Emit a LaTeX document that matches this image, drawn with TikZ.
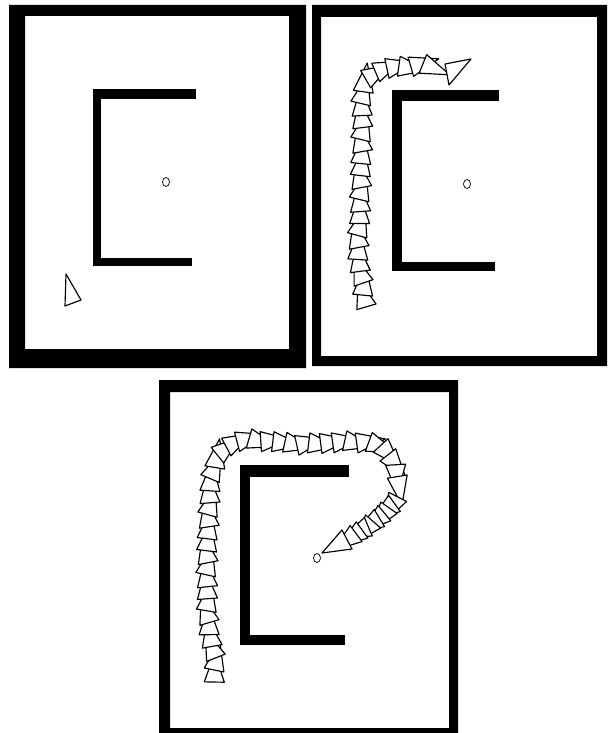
\documentclass[tikz,border=0pt]{standalone}
\usetikzlibrary{decorations.markings}
\tikzset{
  robot/.style={draw=black, fill=white, line width=1.15pt, line join=round},
  goal/.style={draw=black, line width=0.7pt},
  wall/.style={fill=black},
  frame/.style={fill=black, even odd rule},
  trail/.style n args={4}{decoration={markings,
     mark=between positions #1 and -1pt step #2 with {
        \pgfmathsetmacro\jit{13*sin(137*\pgfkeysvalueof{/pgf/decoration/mark info/sequence number})}
        \filldraw[robot, rotate=\jit] (#4,0) -- (#3,10) -- (#3,-10) -- cycle;
     }}, postaction=decorate}
}
\begin{document}
\begin{tikzpicture}[x=1pt,y=-1pt]
\useasboundingbox (0,0) rectangle (608,733);
\fill[white] (0,0) rectangle (608,733);

% ---------- panel 1 ----------
\fill[frame] (9,5) rectangle (306,368) (25,16) rectangle (289,349);
\fill[wall] (93,89) rectangle (196,99);
\fill[wall] (93,89) rectangle (101,266);
\fill[wall] (93,258) rectangle (192,266);
\draw[goal] (166,182) ellipse [x radius=3.5, y radius=4.5];
\filldraw[robot] (66,274) -- (65,306) -- (81,300) -- cycle;

% ---------- panel 2 ----------
\fill[frame] (312,5) rectangle (607,366) (321,17) rectangle (597,356);
\fill[wall] (392,90) rectangle (499,101);
\fill[wall] (392,90) rectangle (402,271);
\fill[wall] (392,262) rectangle (495,271);
\draw[goal] (467,184) ellipse [x radius=3.5, y radius=4.5];
\path[trail={2pt}{12pt}{-6}{23}] plot[smooth, tension=0.6] coordinates {(365,303) (362,280) (358,250) (360,210) (361,170) (362,130) (362,100) (364,86) (371,76) (387,68) (405,67) (418,65) (428,66) (439,72)};
\filldraw[robot] (471,59) -- (445,64) -- (449,85) -- cycle;

% ---------- panel 3 ----------
\fill[frame] (159,380) rectangle (458,733) (170,392) rectangle (449,728);
\fill[wall] (240,465) rectangle (349,477);
\fill[wall] (240,465) rectangle (250,645);
\fill[wall] (240,635) rectangle (345,645);
\draw[goal] (317,558) ellipse [x radius=3.5, y radius=4.5];
\path[trail={2pt}{12pt}{-6}{23}] plot[smooth, tension=0.6] coordinates {(214,678) (215,660) (208,620) (207,560) (209,510) (211,480) (218,457) (232,444) (250,440) (300,444) (340,442) (370,443) (385,450) (394,465) (398,480) (398,492)};
\path[trail={0pt}{7pt}{-3.5}{25}] (396,500) .. controls (385,515) and (368,527) .. (351,537);
\filldraw[robot] (322,553) -- (342,530) -- (352,549) -- cycle;
\end{tikzpicture}
\end{document}
